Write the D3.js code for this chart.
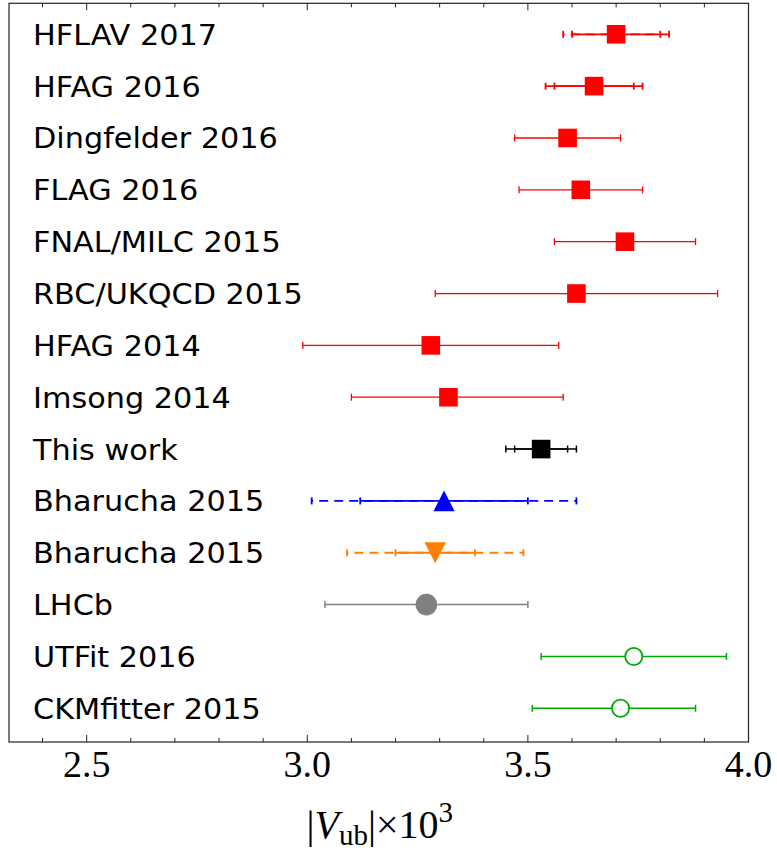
<!DOCTYPE html>
<meta charset="utf-8">
<head>
    <style>
     body { margin: 0; background: #fff; }
     svg text { fill: #000; }
     .lbl { font-family: "DejaVu Sans", sans-serif; font-size: 29px; }
     .tick { font-family: "Liberation Serif", serif; font-size: 38px; }
     .title { font-family: "Liberation Serif", serif; font-size: 40px; }
    </style>
</head>
<body>
<div id="chart"></div>
<script src="https://d3js.org/d3.v7.min.js"></script>
<script>

 // |Vub| x 10^3 results, one entry per row (top to bottom)
 const labels = ["HFLAV 2017", "HFAG 2016", "Dingfelder 2016", "FLAG 2016",
                 "FNAL/MILC 2015", "RBC/UKQCD 2015", "HFAG 2014", "Imsong 2014",
                 "This work", "Bharucha 2015", "Bharucha 2015", "LHCb",
                 "UTFit 2016", "CKMfitter 2015"];
 const centers = [3.70, 3.65, 3.59, 3.62, 3.72, 3.61, 3.28, 3.32,
                  3.53, 3.31, 3.29, 3.27, 3.74, 3.71];
 const innerLo = [3.60, 3.56, 3.47, 3.48, 3.56, 3.29, 2.99, 3.10,
                  3.47, 3.12, 3.20, 3.04, 3.53, 3.51];
 const innerHi = [3.80, 3.74, 3.71, 3.76, 3.88, 3.93, 3.57, 3.58,
                  3.59, 3.50, 3.38, 3.50, 3.95, 3.88];
 // second (total) error band, null where the row only has one
 const outerLo = [3.58, 3.54, null, null, null, null, null, null,
                  3.45, 3.01, 3.09, null, null, null];
 const outerHi = [3.82, 3.76, null, null, null, null, null, null,
                  3.61, 3.61, 3.49, null, null, null];
 // which kind of result each row is
 const kinds = ["avgDash", "avg", "red", "red", "red", "red", "red", "red",
                "ours", "lcsrB", "lcsrO", "lhcb", "fit", "fit"];

 const xTicks = [2.5, 3.0, 3.5, 4.0];

 // look of each kind
 const styles = {
     avgDash: {color: "#ff0000", width: 1.8, dash: true, marker: "square"},
     avg:     {color: "#ff0000", width: 1.8, dash: false, marker: "square"},
     red:     {color: "#ff0000", width: 1.3, dash: false, marker: "square"},
     ours:    {color: "#000000", width: 1.5, dash: false, marker: "square"},
     lcsrB:   {color: "#0000ff", width: 1.8, dash: true, marker: "up"},
     lcsrO:   {color: "#ff7f00", width: 1.8, dash: true, marker: "down"},
     lhcb:    {color: "#808080", width: 1.5, dash: false, marker: "dot"},
     fit:     {color: "#00aa00", width: 1.5, dash: false, marker: "open"}
 };

 const width = 777, height = 850;
 const frame = {left: 9, right: 748.5, top: 3.3, bottom: 742};

 const rows = labels.map((l, i) => ({
     label: l, c: centers[i], lo: innerLo[i], hi: innerHi[i],
     olo: outerLo[i], ohi: outerHi[i], st: styles[kinds[i]], i: i
 }));

 const x = d3.scaleLinear().domain([2.324, 4.0]).range([frame.left, frame.right]);
 const y = d3.scaleLinear().domain([0, labels.length - 1]).range([34.3, 708.3]);

 const svg = d3.select("#chart").append("svg")
               .attr("width", width)
               .attr("height", height);

 // frame
 svg.append("rect")
    .attr("x", frame.left).attr("y", frame.top)
    .attr("width", frame.right - frame.left).attr("height", frame.bottom - frame.top)
    .attr("fill", "none").attr("stroke", "#222").attr("stroke-width", 1.2);

 // ticks, bottom and top, every 0.1
 const minor = d3.range(24, 40).map(v => v / 10);
 const tickG = svg.append("g").attr("stroke", "#222").attr("stroke-width", 1);
 minor.forEach(v => {
     const len = Math.abs(v * 2 - Math.round(v * 2)) < 1e-6 ? 7 : 4;
     tickG.append("line")
          .attr("x1", x(v)).attr("x2", x(v))
          .attr("y1", frame.bottom).attr("y2", frame.bottom - len);
     tickG.append("line")
          .attr("x1", x(v)).attr("x2", x(v))
          .attr("y1", frame.top).attr("y2", frame.top + len);
 });

 svg.append("g").selectAll("text")
    .data(xTicks)
    .join("text")
    .attr("class", "tick")
    .attr("x", d => x(d))
    .attr("y", 777)
    .attr("text-anchor", "middle")
    .text(d => d.toFixed(1));

 // axis title: |V_ub| x 10^3
 const t = svg.append("text")
              .attr("class", "title")
              .attr("x", (frame.left + frame.right) / 2 + 1)
              .attr("y", 838)
              .attr("text-anchor", "middle");
 t.append("tspan").text("|");
 t.append("tspan").attr("font-style", "italic").text("V");
 t.append("tspan").attr("font-size", "29px").attr("dy", 7).text("ub");
 t.append("tspan").attr("dy", -7).text("|×10");
 t.append("tspan").attr("font-size", "29px").attr("dy", -16).text("3");

 // row labels (slightly wider than the plain font)
 svg.append("g").selectAll("text")
    .data(rows)
    .join("text")
    .attr("class", "lbl")
    .attr("transform", d => `translate(33,${y(d.i) + 10.5}) scale(1.045,1)`)
    .text(d => d.label);

 // error bars
 const bars = svg.append("g");
 function cap(g, v, yy, st) {
     g.append("line")
      .attr("x1", x(v)).attr("x2", x(v))
      .attr("y1", yy - 3.5).attr("y2", yy + 3.5)
      .attr("stroke", st.color).attr("stroke-width", st.width);
 }
 rows.forEach(d => {
     const yy = y(d.i), st = d.st;
     const g = bars.append("g");
     if (d.olo != null) {
         g.append("line")
          .attr("x1", x(d.olo)).attr("x2", x(d.ohi))
          .attr("y1", yy).attr("y2", yy)
          .attr("stroke", st.color).attr("stroke-width", st.width)
          .attr("stroke-dasharray", st.dash ? "9,6" : null)
          .attr("stroke-dashoffset", st.dash ? 7.5 : null);
         cap(g, d.olo, yy, st);
         cap(g, d.ohi, yy, st);
     }
     g.append("line")
      .attr("x1", x(d.lo)).attr("x2", x(d.hi))
      .attr("y1", yy).attr("y2", yy)
      .attr("stroke", st.color).attr("stroke-width", st.width);
     cap(g, d.lo, yy, st);
     cap(g, d.hi, yy, st);
 });

 // markers
 const marks = svg.append("g");
 rows.forEach(d => {
     const cx = x(d.c), cy = y(d.i), st = d.st;
     if (st.marker === "square") {
         marks.append("rect")
              .attr("x", cx - 9.3).attr("y", cy - 9.3)
              .attr("width", 18.6).attr("height", 18.6)
              .attr("fill", st.color);
     } else if (st.marker === "up") {
         marks.append("path")
              .attr("d", `M${cx},${cy - 10.4}L${cx + 10.6},${cy + 10.4}L${cx - 10.6},${cy + 10.4}Z`)
              .attr("fill", st.color);
     } else if (st.marker === "down") {
         marks.append("path")
              .attr("d", `M${cx},${cy + 10.4}L${cx + 10.8},${cy - 10.4}L${cx - 10.8},${cy - 10.4}Z`)
              .attr("fill", st.color);
     } else if (st.marker === "dot") {
         marks.append("circle")
              .attr("cx", cx).attr("cy", cy).attr("r", 10.8)
              .attr("fill", st.color);
     } else {
         marks.append("circle")
              .attr("cx", cx).attr("cy", cy).attr("r", 8.6)
              .attr("fill", "#fff")
              .attr("stroke", st.color).attr("stroke-width", 1.8);
     }
 });

</script>
</body>
